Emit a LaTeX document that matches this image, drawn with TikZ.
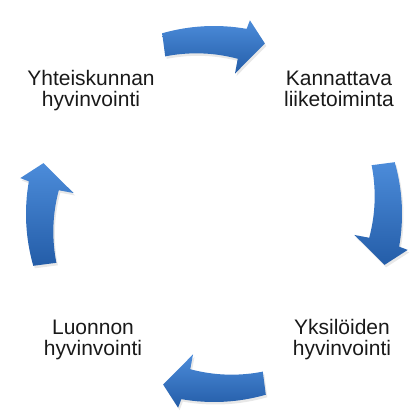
\documentclass[tikz,border=0pt]{standalone}
\usepackage{fontspec}
\setmainfont{Liberation Sans}
\usetikzlibrary{shadows}
\definecolor{a1}{RGB}{76,140,218}
\definecolor{a2}{RGB}{36,93,168}

\begin{document}
\begin{tikzpicture}[x=1pt, y=1pt,
    lbl/.style={align=center, font=\fontsize{21}{20.5}\selectfont,
                text=black!90, anchor=base, inner sep=0pt},
    cyc/.style={top color=a1, bottom color=a2, draw=none,
                drop shadow={opacity=0.18, shadow xshift=1.5pt, shadow yshift=-2.5pt}}]
    \useasboundingbox (0,0) rectangle (414,416);

    % labels (anchor sits on the second line)
    \node[lbl] (yht) at (91,309.5) {Yhteiskunnan\\hyvinvointi};
    \node[lbl] (kan) at (339,309.5) {Kannattava\\liiketoiminta};
    \node[lbl] (yks) at (342,60.5) {Yksilöiden\\hyvinvointi};
    \node[lbl] (luo) at (93,60.5) {Luonnon\\hyvinvointi};

    % curved arrows round the cycle
    \begin{scope}[shift={(214,202)}]
      \foreach \a in {0,-90,-180,-270}
        \path[cyc] ({106+(\a)}:188) arc[start angle=106+(\a), end angle=80+(\a), radius=188]
          -- ({79.5+(\a)}:197) -- ({73.4+(\a)}:178) -- ({81.5+(\a)}:142) -- ({81.3+(\a)}:157)
          -- plot[domain=81.3+(\a):107.2+(\a), samples=20] (\x:{157+0.31*(\x-(\a)-81.3)})
          -- cycle;
    \end{scope}
\end{tikzpicture}
\end{document}
